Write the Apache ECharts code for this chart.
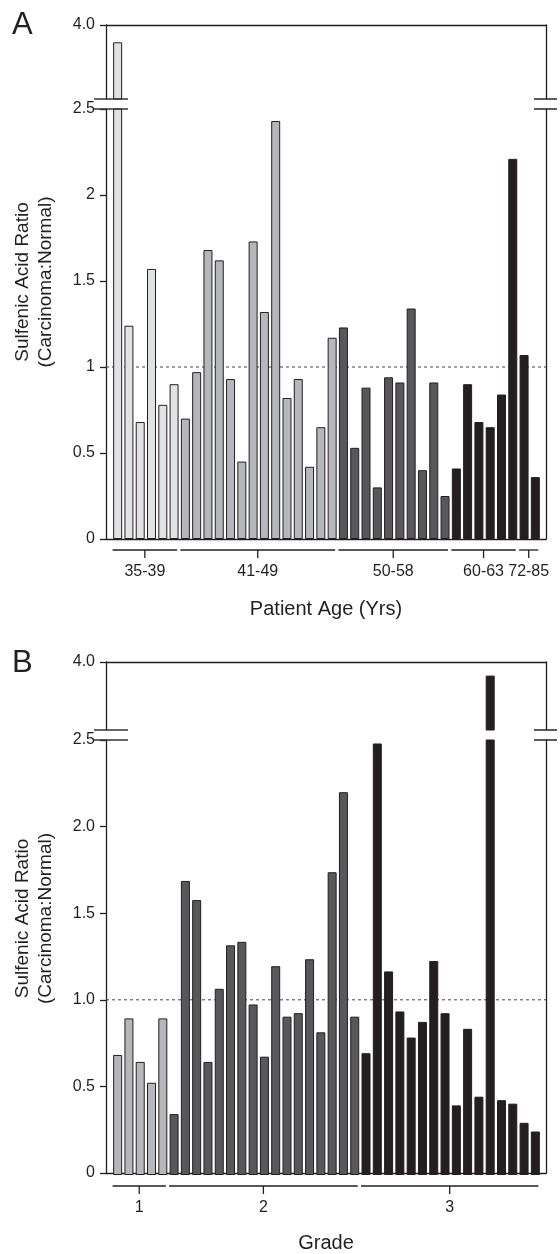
<!DOCTYPE html>
<html>
<head>
<meta charset="utf-8">
<script src="https://cdn.jsdelivr.net/npm/echarts@6/dist/echarts.min.js"></script>
<style>
  html, body { margin: 0; padding: 0; background: #fff; }
  #main { width: 560px; height: 1254px; }
</style>
</head>
<body>
<div id="main"></div>
<script>
// panel A - grouped by patient age
var ageGroups = ['35-39', '41-49', '50-58', '60-63', '72-85']
var ageCounts = [6, 14, 10, 6, 2]
var ageRatios = [
  3.65, 1.24, 0.68, 1.57, 0.78, 0.90,
  0.70, 0.97, 1.68, 1.62, 0.93, 0.45, 1.73, 1.32, 2.43, 0.82, 0.93, 0.42, 0.65, 1.17,
  1.23, 0.53, 0.88, 0.30, 0.94, 0.91, 1.34, 0.40, 0.91, 0.25,
  0.41, 0.90, 0.68, 0.65, 0.84, 2.21,
  1.07, 0.36
]
var ageTicks = ['0', '0.5', '1', '1.5', '2', '2.5']

// panel B - grouped by tumour grade
var grades = ['1', '2', '3']
var gradeCounts = [5, 17, 16]
var gradeRatios = [
  0.69, 0.90, 0.65, 0.53, 0.90,
  0.35, 1.69, 1.58, 0.65, 1.07, 1.32, 1.34, 0.98, 0.68, 1.20, 0.91, 0.93, 1.24, 0.82, 1.74, 2.20, 0.91,
  0.70, 2.48, 1.17, 0.94, 0.79, 0.88, 1.23, 0.93, 0.40, 0.84, 0.45, 3.70, 0.43, 0.41, 0.30, 0.25
]
var gradeTicks = ['0', '0.5', '1.0', '1.5', '2.0', '2.5']

var breakAt = 2.5
var axisTop = 4.0
var topLabel = '4.0'
var refLine = 1

var ageColors = ['#e1e2e4', '#b6b7ba', '#58585a', '#231f20', '#231f20']
var gradeColors = ['#b6b7ba', '#58585a', '#231f20']

var ink = '#231f20'
var font = '"Liberation Sans", Arial, Helvetica, sans-serif'

// frame and bar area, shared by both panels
var frameL = 106
var frameR = 546
var barL = 112
var barR = 541

var option = { animation: false, grid: [], xAxis: [], yAxis: [], series: [], graphic: [] }

function groupOf(counts) {
  // group index of every bar, and [first, last] bar of each group
  var idx = []
  var spans = []
  var k = 0
  counts.forEach(function (c, g) {
    spans.push([k, k + c - 1, 0])
    for (var i = 0; i < c; i++) idx.push(g)
    k += c
  })
  return { idx: idx, spans: spans }
}

function lineAxis(gridIndex, position) {
  return {
    gridIndex: gridIndex, type: 'value', position: position, min: 0, max: 1,
    axisLine: { show: true, lineStyle: { color: ink, width: 1.3 } },
    axisTick: { show: false }, axisLabel: { show: false }, splitLine: { show: false }
  }
}

function addPanel(p, groups, counts, values, colors, ticks, xName) {
  var g = option.grid.length
  var xa = option.xAxis.length
  var ya = option.yAxis.length
  var gi = groupOf(counts)
  var cats = values.map(function (v, i) { return String(i + 1) })

  option.grid.push(
    { left: frameL, top: p.top, width: frameR - frameL, height: p.brk - p.top },
    { left: frameL, top: p.lowTop, width: frameR - frameL, height: p.base - p.lowTop },
    { left: barL, top: p.top, width: barR - barL, height: p.brk - p.top },
    { left: barL, top: p.lowTop, width: barR - barL, height: p.base - p.lowTop }
  )

  var bottomAxis = lineAxis(g + 1, 'bottom')
  bottomAxis.name = xName
  bottomAxis.nameLocation = 'middle'
  bottomAxis.nameGap = 60
  bottomAxis.nameTextStyle = { fontFamily: font, fontSize: 20, color: ink }

  option.xAxis.push(
    lineAxis(g, 'top'),
    bottomAxis,
    { gridIndex: g + 2, type: 'category', data: cats, show: false },
    { gridIndex: g + 3, type: 'category', data: cats, show: false }
  )

  var upLeft = {
    gridIndex: g, type: 'value', position: 'left', min: breakAt, max: axisTop,
    axisLine: { show: true, lineStyle: { color: ink, width: 1.3 } },
    axisTick: { show: true, length: 6, customValues: [axisTop], lineStyle: { color: ink, width: 1.3 } },
    axisLabel: {
      customValues: [axisTop], margin: 11, fontFamily: font, fontSize: 16, color: ink,
      formatter: function () { return topLabel }
    },
    splitLine: { show: false }
  }
  var upRight = {
    gridIndex: g, type: 'value', position: 'right', min: breakAt, max: axisTop,
    axisLine: { show: true, lineStyle: { color: ink, width: 1.3 } },
    axisTick: { show: false }, axisLabel: { show: false }, splitLine: { show: false }
  }
  var lowLeft = {
    gridIndex: g + 1, type: 'value', position: 'left', min: 0, max: breakAt, interval: 0.5,
    axisLine: { show: true, lineStyle: { color: ink, width: 1.3 } },
    axisTick: { show: true, length: 6, lineStyle: { color: ink, width: 1.3 } },
    axisLabel: {
      margin: 11, fontFamily: font, fontSize: 16, color: ink,
      formatter: function (v) { return ticks[Math.round(v / 0.5)] }
    },
    splitLine: { show: false }
  }
  var lowRight = {
    gridIndex: g + 1, type: 'value', position: 'right', min: 0, max: breakAt,
    axisLine: { show: true, lineStyle: { color: ink, width: 1.3 } },
    axisTick: { show: false }, axisLabel: { show: false }, splitLine: { show: false }
  }
  option.yAxis.push(upLeft, upRight, lowLeft, lowRight,
    { gridIndex: g + 2, type: 'value', min: breakAt, max: axisTop, show: false },
    { gridIndex: g + 3, type: 'value', min: 0, max: breakAt, show: false }
  )

  var barStyle = { borderColor: ink, borderWidth: 1 }
  option.series.push(
    // dashed reference line at ratio 1, across the whole frame
    {
      type: 'line', xAxisIndex: xa + 1, yAxisIndex: ya + 2, silent: true, z: 1,
      data: [[0, refLine], [1, refLine]], symbol: 'none',
      lineStyle: { color: '#444', width: 1, type: [3, 3] }
    },
    {
      type: 'bar', xAxisIndex: xa + 2, yAxisIndex: ya + 4, barWidth: 9, clip: true, z: 3,
      itemStyle: barStyle,
      data: values.map(function (v, i) {
        return v > breakAt ? { value: v, itemStyle: { color: colors[gi.idx[i]] } } : '-'
      })
    },
    {
      type: 'bar', xAxisIndex: xa + 3, yAxisIndex: ya + 5, barWidth: 9, clip: true, z: 3,
      itemStyle: barStyle,
      data: values.map(function (v, i) {
        return { value: v, itemStyle: { color: colors[gi.idx[i]] } }
      })
    },
    // group underlines with labels below the axis
    {
      type: 'custom', xAxisIndex: xa + 3, yAxisIndex: ya + 5, silent: true, clip: false,
      encode: { x: [0, 1], y: 2 },
      data: gi.spans,
      renderItem: function (params, api) {
        var s = api.coord([api.value(0), 0])
        var e = api.coord([api.value(1), 0])
        var x1 = s[0] - 5
        var x2 = e[0] + 3
        var y = s[1] + 11
        var mid = (x1 + x2) / 2
        var st = { stroke: ink, lineWidth: 1.3 }
        return {
          type: 'group',
          children: [
            { type: 'line', shape: { x1: x1, y1: y, x2: x2, y2: y }, style: st },
            { type: 'line', shape: { x1: mid, y1: y, x2: mid, y2: y + 8 }, style: st },
            {
              type: 'text', x: mid, y: y + 22,
              style: {
                text: groups[params.dataIndex], fill: ink, align: 'center',
                verticalAlign: 'middle', font: '16px ' + font
              }
            }
          ]
        }
      }
    }
  )

  // panel letter, y title and the axis break marks
  option.graphic.push(
    {
      type: 'text', left: 12, top: p.letterTop, z: 50,
      style: { text: p.letter, fill: ink, font: '31px ' + font }
    },
    {
      type: 'text', x: 34, y: (p.top + p.base) / 2, rotation: Math.PI / 2, z: 50,
      style: {
        text: 'Sulfenic Acid Ratio\n(Carcinoma:Normal)', fill: ink, align: 'center',
        verticalAlign: 'middle', lineHeight: 23, font: '19px ' + font
      }
    }
  )
  ;[p.brk, p.lowTop].forEach(function (yy) {
    option.graphic.push(
      { type: 'line', z: 60, shape: { x1: frameL - 12, y1: yy, x2: frameL + 22, y2: yy },
        style: { stroke: '#333', lineWidth: 1.6 } },
      { type: 'line', z: 60, shape: { x1: frameR - 12, y1: yy, x2: frameR + 11, y2: yy },
        style: { stroke: '#333', lineWidth: 1.6 } }
    )
  })
}

addPanel({ top: 25, brk: 99, lowTop: 109, base: 539, letter: 'A', letterTop: 10 },
  ageGroups, ageCounts, ageRatios, ageColors, ageTicks, 'Patient Age (Yrs)')
addPanel({ top: 662, brk: 730, lowTop: 740, base: 1175, letter: 'B', letterTop: 648 },
  grades, gradeCounts, gradeRatios, gradeColors, gradeTicks, 'Grade')

var myChart = echarts.init(document.getElementById('main'))
myChart.setOption(option)
</script>
</body>
</html>
